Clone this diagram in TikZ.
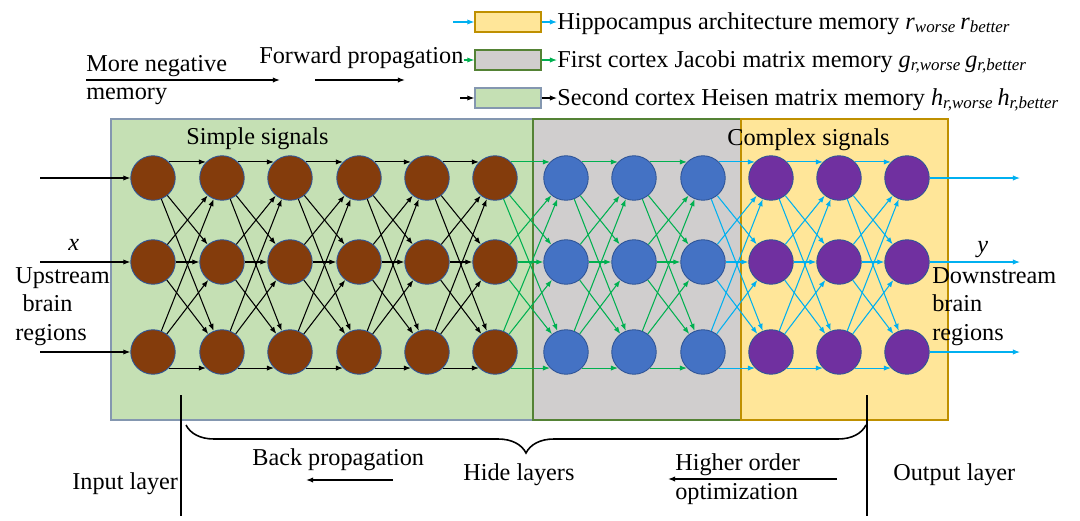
\documentclass[tikz,border=0pt]{standalone}
\usepackage{fontspec}
\setmainfont{Liberation Serif}
\usetikzlibrary{arrows.meta,decorations.pathreplacing}
\definecolor{brn}{HTML}{843C0C}
\definecolor{blu}{HTML}{4472C4}
\definecolor{pur}{HTML}{7030A0}
\definecolor{rim}{HTML}{2F5597}
\definecolor{lgreen}{HTML}{C5E0B4}
\definecolor{lgray}{HTML}{D0CECE}
\definecolor{lyellow}{HTML}{FFE699}
\definecolor{rimgreen}{HTML}{8497B0}
\definecolor{rimgray}{HTML}{548235}
\definecolor{rimyellow}{HTML}{BF9000}
\definecolor{fgreen}{HTML}{00B050}
\definecolor{fcyan}{HTML}{00B0F0}
\newcommand{\memsub}[2]{\textit{#1}\textsubscript{\textit{#2}}}

\begin{document}
\begin{tikzpicture}[x=0.02cm,y=-0.02cm,font=\fontsize{13.8}{16.2}\selectfont,
    neuron/.style={circle,draw=rim,line width=0.5pt,minimum size=0.89cm,inner sep=0pt},
    link/.style={line width=0.6pt,-{Latex[length=4pt,width=3pt]}},
    legbox/.style={line width=0.8pt,minimum width=1.32cm,minimum height=0.4cm,inner sep=0pt},
    lbl/.style={inner sep=0pt,anchor=base west}]
    \useasboundingbox (0,0) rectangle (1080,521);
    % memory regions
    \filldraw[fill=lgreen,draw=rimgreen,line width=0.8pt] (111,119) rectangle (533,420);
    \filldraw[fill=lgray,draw=rimgray,line width=0.8pt] (533,119) rectangle (741,420);
    \filldraw[fill=lyellow,draw=rimyellow,line width=0.8pt] (741,119) rectangle (948,420);
    \def\cols{153/brn,222/brn,290/brn,359/brn,427/brn,495/brn,566/blu,634/blu,703/blu,771/pur,839/pur,907/pur}
    \def\rows{178,262,352}
    %         top  mid  bottom
    \foreach \c/\f [count=\i from 1] in \cols {\foreach \ry [count=\j from 1] in \rows {\node[neuron,fill=\f] (n\i-\j) at (\c,\ry) {};}}
    \foreach \i/\k/\w in {1/2/black,2/3/black,3/4/black,4/5/black,5/6/black,6/7/fgreen,7/8/fgreen,8/9/fgreen,9/10/fcyan,10/11/fcyan,11/12/fcyan}
      {\foreach \src/\dst in {1/2,1/3,2/1,2/2,2/3,3/1,3/2} {\draw[link,\w] (n\i-\src) -- (n\k-\dst);}
       \draw[link,\w] (n\i-1.45) -- (n\k-1.135);
       \draw[link,\w] (n\i-3.-45) -- (n\k-3.-135);}
    \foreach \ry [count=\j from 1] in \rows {\coordinate (in\j) at (40,\ry); \coordinate (out\j) at (1020,\ry);}
    \foreach \j in {1,2,3} {\draw[link] (in\j) -- (n1-\j); \draw[link,fcyan] (n12-\j) -- (out\j);}
    % legend
    \node[legbox,fill=lyellow,draw=rimyellow] (hip) at (508,22) {};
    \node[legbox,fill=lgray,draw=rimgray] (jac) at (508,60) {};
    \node[legbox,fill=lgreen,draw=rimgreen] (hes) at (508,98) {};
    \node[lbl] (hiptxt) at (557,29) {Hippocampus architecture memory \memsub{r}{worse}\,\memsub{r}{better}};
    \node[lbl] (jactxt) at (557,67) {First cortex Jacobi matrix memory \memsub{g}{r,worse}\,\memsub{g}{r,better}};
    \node[lbl] (hestxt) at (557,105) {Second cortex Heisen matrix memory \memsub{h}{r,worse}\,\memsub{h}{r,better}};
    \node[lbl] (neg) at (86,71) {More negative};
    \node[lbl] (mem) at (86,99) {memory};
    \node[lbl] (fwd) at (259,63) {Forward propagation};
    \coordinate (hipin) at (453,22);
    \coordinate (hesin) at (460,98);
    \draw[link,fcyan] (hipin) -- (hip);
    \draw[link,fcyan] (hip) -- (hip -| hiptxt.west);
    \draw[link,fgreen] (fwd.east |- jac) -- (jac);
    \draw[link,fgreen] (jac) -- (jac -| jactxt.west);
    \draw[link] (hesin) -- (hes);
    \draw[link] (hes) -- (hes -| hestxt.west);
    \coordinate (neg1) at (86,80); \coordinate (neg2) at (280,80);
    \coordinate (fwd1) at (315,80); \coordinate (fwd2) at (405,80);
    \draw[link,line width=0.9pt] (neg1) -- (neg2);
    \draw[link,line width=0.9pt] (fwd1) -- (fwd2);
    % signal labels
    \node[lbl] (simple) at (186,144) {Simple signals};
    \node[lbl] (complex) at (727,145) {Complex signals};
    \node[lbl] (xin) at (68,250) {\textit{x}};
    \node[lbl,align=left] (up) at (15,340) {Upstream\\\hspace{0.3em}brain\\regions};
    \node[lbl] (yout) at (977,252) {\textit{y}};
    \node[lbl,align=left] (down) at (932,340) {Downstream\\brain\\regions};
    % layers
    \coordinate (il1) at (181,395); \coordinate (il2) at (181,516);
    \coordinate (ol1) at (867,395); \coordinate (ol2) at (867,516);
    \draw[line width=0.9pt] (il1) -- (il2);
    \draw[line width=0.9pt] (ol1) -- (ol2);
    \coordinate (bl) at (186,425); \coordinate (br) at (866,425);
    \draw[line width=0.9pt,decorate,decoration={brace,mirror,amplitude=0.56cm}] (bl) -- (br);
    \node[lbl] (inl) at (72,489) {Input layer};
    \node[lbl] (back) at (252,465) {Back propagation};
    \node[lbl] (hide) at (463,480) {Hide layers};
    \node[lbl,align=left] (high) at (675,499) {Higher order\\optimization};
    \node[lbl] (outl) at (893,480) {Output layer};
    \coordinate (bp1) at (393,480); \coordinate (bp2) at (306,480);
    \coordinate (ho1) at (837,479); \coordinate (ho2) at (668,479);
    \draw[link,line width=0.9pt] (bp1) -- (bp2);
    \draw[link,line width=0.9pt] (ho1) -- (ho2);
\end{tikzpicture}
\end{document}
